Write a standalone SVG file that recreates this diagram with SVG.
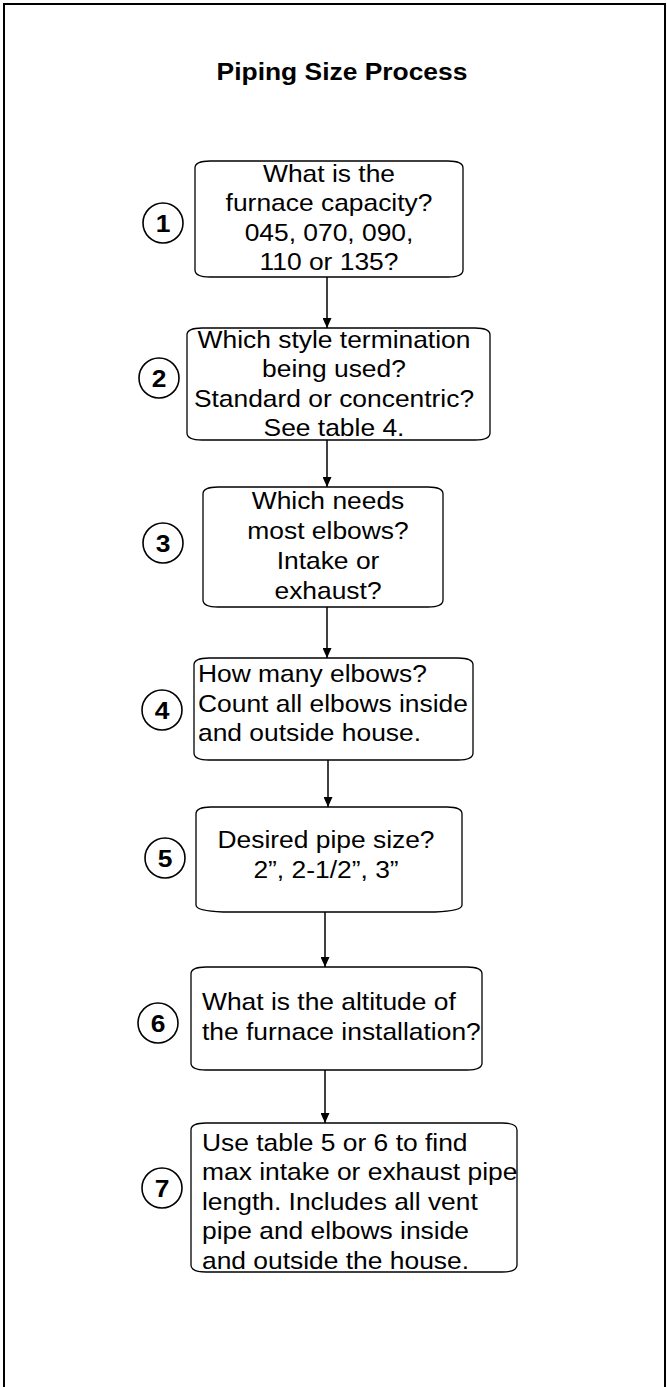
<svg xmlns="http://www.w3.org/2000/svg" width="667" height="1387" viewBox="0 0 667 1387">
<style>
.bg{fill:#ffffff}
.frame{fill:none;stroke:#000;stroke-width:2}
.box{fill:#ffffff;stroke:#000;stroke-width:1.3}
.num{fill:#ffffff;stroke:#000;stroke-width:1.6}
.t{font-family:"Liberation Sans",Arial,sans-serif;font-size:24px;fill:#000}
.c{text-anchor:middle}
.b{font-weight:bold}
.conn{stroke:#000;stroke-width:1.5;fill:none}
</style>
<defs>
<marker id="ah" markerUnits="userSpaceOnUse" markerWidth="10" markerHeight="9" refX="10" refY="4.5" orient="auto">
<path d="M0,0 L10,4.5 L0,9 Z" fill="#000"/>
</marker>
</defs>
<rect class="bg" x="0" y="0" width="667" height="1387"/>
<path class="frame" d="M4,1387 V4 H665 V1387"/>
<g id="title">
<text class="t b c" transform="translate(342,80) scale(1.1,1)" x="0" y="0">Piping Size Process</text>
</g>
<g id="connectors">
<line class="conn" x1="327" y1="277" x2="327" y2="328" marker-end="url(#ah)"/>
<line class="conn" x1="327" y1="440" x2="327" y2="487" marker-end="url(#ah)"/>
<line class="conn" x1="327" y1="607" x2="327" y2="658" marker-end="url(#ah)"/>
<line class="conn" x1="328" y1="760" x2="328" y2="807" marker-end="url(#ah)"/>
<line class="conn" x1="325" y1="912" x2="325" y2="967" marker-end="url(#ah)"/>
<line class="conn" x1="325" y1="1070" x2="325" y2="1123" marker-end="url(#ah)"/>
</g>
<g id="node1">
<path class="box" d="M210,161 H448 Q463,161 463,168 V270 Q463,277 448,277 H210 Q195,277 195,270 V168 Q195,161 210,161 Z"/>
<text class="t c" transform="translate(329,0) scale(1.1,1)"><tspan x="0" y="182">What is the</tspan><tspan x="0" y="211.5">furnace capacity?</tspan><tspan x="0" y="241">045, 070, 090,</tspan><tspan x="0" y="270.5">110 or 135?</tspan></text>
</g>
<g id="node2">
<path class="box" d="M202,328 H475 Q490,328 490,335 V433 Q490,440 475,440 H202 Q187,440 187,433 V335 Q187,328 202,328 Z"/>
<text class="t c" transform="translate(334,0) scale(1.1,1)"><tspan x="0" y="348">Which style termination</tspan><tspan x="0" y="377.5">being used?</tspan><tspan x="0" y="407">Standard or concentric?</tspan><tspan x="0" y="436.5">See table 4.</tspan></text>
</g>
<g id="node3">
<path class="box" d="M218,487 H428 Q443,487 443,494 V600 Q443,607 428,607 H218 Q203,607 203,600 V494 Q203,487 218,487 Z"/>
<text class="t c" transform="translate(328,0) scale(1.1,1)"><tspan x="0" y="509.5">Which needs</tspan><tspan x="0" y="539.5">most elbows?</tspan><tspan x="0" y="569.5">Intake or</tspan><tspan x="0" y="599">exhaust?</tspan></text>
</g>
<g id="node4">
<path class="box" d="M209,658 H458 Q473,658 473,665 V753 Q473,760 458,760 H209 Q194,760 194,753 V665 Q194,658 209,658 Z"/>
<text class="t" transform="translate(198,0) scale(1.1,1)"><tspan x="0" y="682">How many elbows?</tspan><tspan x="0" y="712">Count all elbows inside</tspan><tspan x="0" y="741">and outside house.</tspan></text>
</g>
<g id="node5">
<path class="box" d="M211,807 H447 Q462,807 462,814 V905 Q462,911 435,912 H223 Q196,911 196,905 V814 Q196,807 211,807 Z"/>
<text class="t c" transform="translate(326,0) scale(1.1,1)"><tspan x="0" y="848">Desired pipe size?</tspan><tspan x="0" y="878">2”, 2-1/2”, 3”</tspan></text>
</g>
<g id="node6">
<path class="box" d="M206,967 H467 Q482,967 482,974 V1063 Q482,1070 467,1070 H206 Q191,1070 191,1063 V974 Q191,967 206,967 Z"/>
<text class="t" transform="translate(202,0) scale(1.1,1)"><tspan x="0" y="1010">What is the altitude of</tspan><tspan x="0" y="1040">the furnace installation?</tspan></text>
</g>
<g id="node7">
<path class="box" d="M206,1123 H502 Q517,1123 517,1130 V1265 Q517,1272 502,1272 H206 Q191,1272 191,1265 V1130 Q191,1123 206,1123 Z"/>
<text class="t" transform="translate(202,0) scale(1.1,1)"><tspan x="0" y="1151">Use table 5 or 6 to find</tspan><tspan x="0" y="1180.5">max intake or exhaust pipe</tspan><tspan x="0" y="1210">length. Includes all vent</tspan><tspan x="0" y="1239.5">pipe and elbows inside</tspan><tspan x="0" y="1269">and outside the house.</tspan></text>
</g>
<g id="step1"><circle class="num" cx="163" cy="223" r="20"/><text class="t b c" transform="translate(163,232) scale(1.1,1)" x="0" y="0">1</text></g>
<g id="step2"><circle class="num" cx="159" cy="378" r="20"/><text class="t b c" transform="translate(159,387) scale(1.1,1)" x="0" y="0">2</text></g>
<g id="step3"><circle class="num" cx="163" cy="543" r="20"/><text class="t b c" transform="translate(163,552) scale(1.1,1)" x="0" y="0">3</text></g>
<g id="step4"><circle class="num" cx="162" cy="710" r="20"/><text class="t b c" transform="translate(162,719) scale(1.1,1)" x="0" y="0">4</text></g>
<g id="step5"><circle class="num" cx="165" cy="858" r="20"/><text class="t b c" transform="translate(165,867) scale(1.1,1)" x="0" y="0">5</text></g>
<g id="step6"><circle class="num" cx="158" cy="1023" r="20"/><text class="t b c" transform="translate(158,1032) scale(1.1,1)" x="0" y="0">6</text></g>
<g id="step7"><circle class="num" cx="162" cy="1188" r="20"/><text class="t b c" transform="translate(162,1197) scale(1.1,1)" x="0" y="0">7</text></g>
</svg>
